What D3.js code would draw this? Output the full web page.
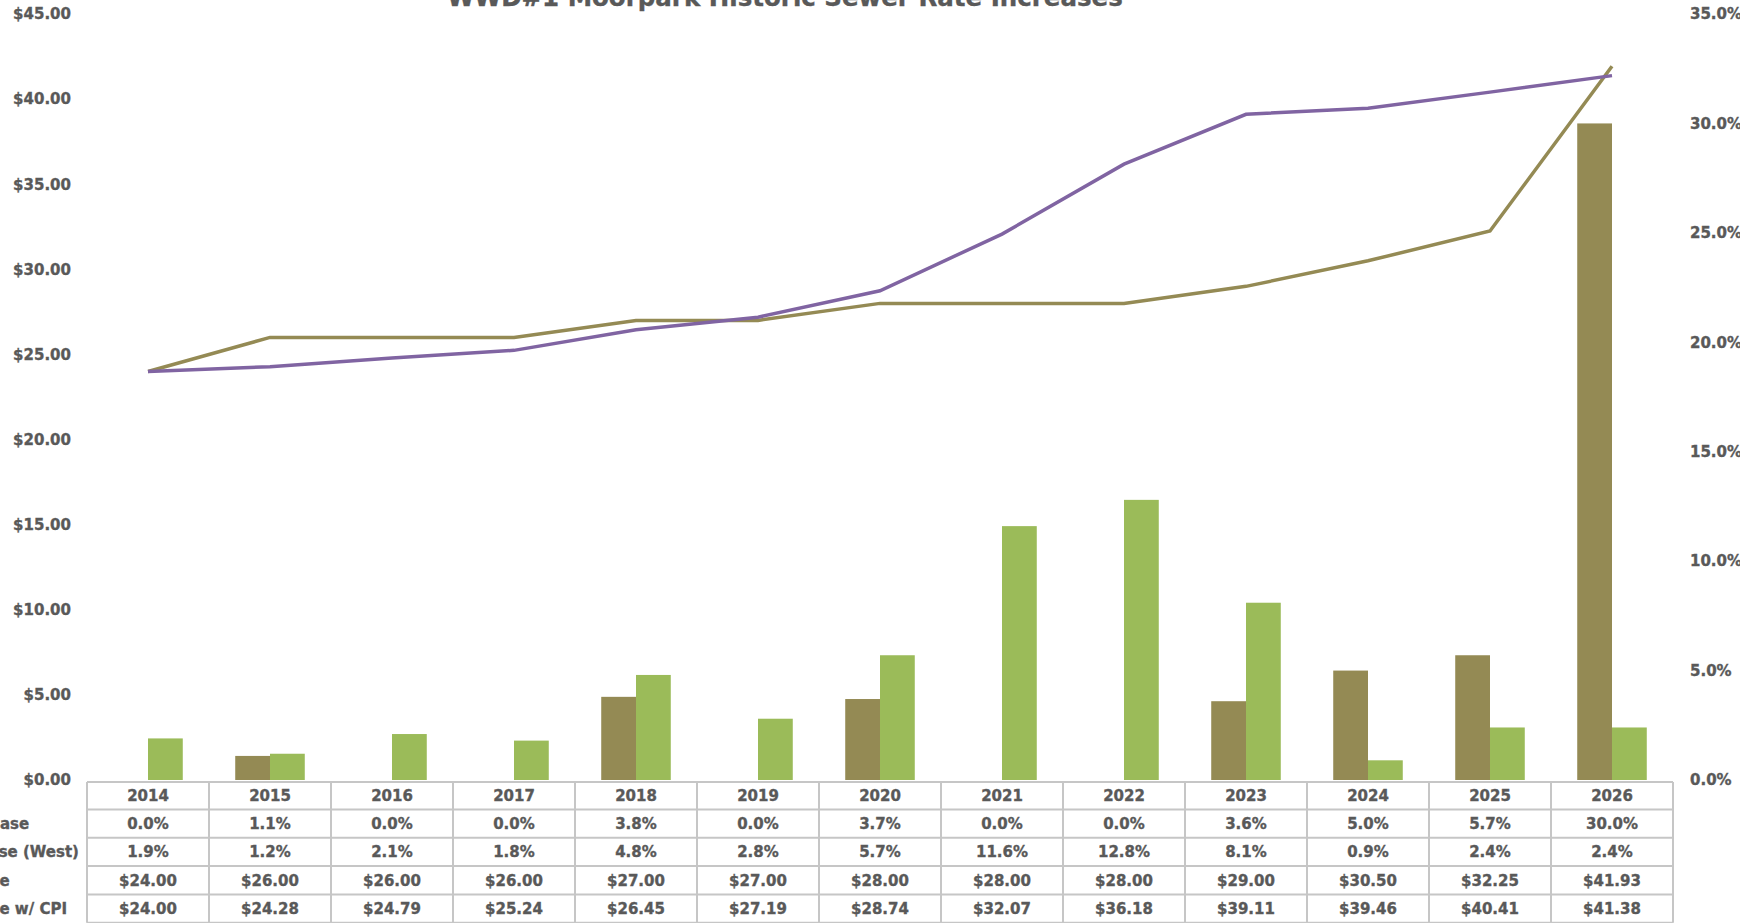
<!DOCTYPE html>
<html>
<head>
<meta charset="utf-8">
<script src="https://cdn.jsdelivr.net/npm/d3@7"></script>
<style>
    body { margin: 0; background: #ffffff; overflow: hidden; }
    text { font-family: "DejaVu Sans", sans-serif; font-weight: bold; fill: #595959; stroke: #595959; stroke-width: 0.35px; }
</style>
</head>
<body>
<div id="chart"></div>
<script>
const years = ["2014", "2015", "2016", "2017", "2018", "2019", "2020", "2021", "2022", "2023", "2024", "2025", "2026"];
const rateIncrease = [0.000, 0.011, 0.000, 0.000, 0.038, 0.000, 0.037, 0.000, 0.000, 0.036, 0.050, 0.057, 0.300];
const cpiIncrease = [0.019, 0.012, 0.021, 0.018, 0.048, 0.028, 0.057, 0.116, 0.128, 0.081, 0.009, 0.024, 0.024];
const rate = [24.00, 26.00, 26.00, 26.00, 27.00, 27.00, 28.00, 28.00, 28.00, 29.00, 30.50, 32.25, 41.93];
const rateCpi = [24.00, 24.28, 24.79, 25.24, 26.45, 27.19, 28.74, 32.07, 36.18, 39.11, 39.46, 40.41, 41.38];
const rowLabels = ["Rate Increase", "CPI Increase (West)", "Sewer Rate", "Sewer Rate w/ CPI"];
const leftTicks = [0, 5, 10, 15, 20, 25, 30, 35, 40, 45];
const rightTicks = [0, 0.05, 0.10, 0.15, 0.20, 0.25, 0.30, 0.35];
const title = "WWD#1 Moorpark Historic Sewer Rate Increases";

const width = 1740;
const height = 923;

const olive = "#948a54";
const green = "#9bbb59";
const purple = "#8064a2";

const svg = d3.select("#chart")
.append("svg")
.attr("width", width)
.attr("height", height);

// plot area
const plotLeft = 87;
const plotRight = 1673;
const plotTop = 14;
const plotBottom = 780;

const xScale = d3.scaleBand()
.domain(years)
.range([plotLeft, plotRight])
.paddingInner(0.43)
.paddingOuter(0.215);

const xSub = d3.scaleBand()
.domain(["rate", "cpi"])
.range([0, xScale.bandwidth()]);

const yLeft = d3.scaleLinear()
.domain([0, 45])
.range([plotBottom, plotTop]);

const yRight = d3.scaleLinear()
.domain([0, 0.35])
.range([plotBottom, plotTop]);

// axes, labels only
const leftAxis = d3.axisLeft(yLeft)
.tickValues(leftTicks)
.tickFormat(d3.format("$.2f"))
.tickSize(0)
.tickPadding(0);

svg.append("g")
.attr("transform", "translate(71,0)")
.call(leftAxis)
.call(g => g.select(".domain").remove())
.selectAll("text")
.style("font-size", "15px")
.style("font-family", "DejaVu Sans")
.attr("fill", "#595959");

const rightAxis = d3.axisRight(yRight)
.tickValues(rightTicks)
.tickFormat(d3.format(".1%"))
.tickSize(0)
.tickPadding(0);

svg.append("g")
.attr("transform", "translate(1690,0)")
.call(rightAxis)
.call(g => g.select(".domain").remove())
.selectAll("text")
.style("font-size", "15px")
.style("font-family", "DejaVu Sans")
.attr("fill", "#595959");

// bars on the percent axis
const barData = years.map((y, i) => [
    {year: y, key: "rate", value: rateIncrease[i]},
    {year: y, key: "cpi", value: cpiIncrease[i]}
]).flat();

svg.selectAll(".bar")
.data(barData)
.enter()
.append("rect")
.attr("class", "bar")
.attr("x", d => xScale(d.year) + xSub(d.key))
.attr("width", xSub.bandwidth())
.attr("y", d => yRight(d.value))
.attr("height", d => plotBottom - yRight(d.value))
.attr("fill", d => d.key == "rate" ? olive : green);

// lines on the dollar axis
const line = d3.line()
.x((d, i) => xScale(years[i]) + xScale.bandwidth() / 2)
.y(d => yLeft(d));

svg.append("path")
.datum(rate)
.attr("d", line)
.attr("fill", "none")
.attr("stroke", olive)
.attr("stroke-width", 3.5);

svg.append("path")
.datum(rateCpi)
.attr("d", line)
.attr("fill", "none")
.attr("stroke", purple)
.attr("stroke-width", 3.5);

// data table under the chart
const rowTop = 782;
const rowH = [27.5, 28.3, 28.3, 28.3, 28.3];
const rowY = [rowTop];
rowH.forEach((h, i) => rowY.push(rowY[i] + h));

const step = xScale.step();
const colX = years.map((y, i) => plotLeft + i * step);

const table = svg.append("g");

table.selectAll(".hline")
.data(rowY)
.enter()
.append("line")
.attr("x1", plotLeft)
.attr("x2", plotRight)
.attr("y1", d => d)
.attr("y2", d => d)
.attr("stroke", "#c6c6c6")
.attr("stroke-width", 2);

table.selectAll(".vline")
.data(colX.concat([plotRight]))
.enter()
.append("line")
.attr("x1", d => d)
.attr("x2", d => d)
.attr("y1", rowY[0])
.attr("y2", rowY[5])
.attr("stroke", "#c6c6c6")
.attr("stroke-width", 2);

const pct = d3.format(".1%");
const usd = d3.format("$.2f");
const rows = [
    years,
    rateIncrease.map(pct),
    cpiIncrease.map(pct),
    rate.map(usd),
    rateCpi.map(usd)
];

rows.forEach((row, r) => {
    table.selectAll(".cell" + r)
    .data(row)
    .enter()
    .append("text")
    .attr("x", (d, i) => xScale(years[i]) + xScale.bandwidth() / 2)
    .attr("y", (rowY[r] + rowY[r + 1]) / 2)
    .attr("dy", "0.36em")
    .attr("text-anchor", "middle")
    .style("font-size", "15px")
    .text(d => d);
});

// row labels start left of the frame, so only their ends show
table.selectAll(".rowLabel")
.data(rowLabels)
.enter()
.append("text")
.attr("x", -87)
.attr("y", (d, i) => (rowY[i + 1] + rowY[i + 2]) / 2)
.attr("dy", "0.36em")
.attr("text-anchor", "start")
.style("font-size", "15px")
.text(d => d);

// title, partly above the frame
svg.append("text")
.attr("x", 785)
.attr("y", 6)
.attr("text-anchor", "middle")
.style("font-size", "24.5px")
.text(title);
</script>
</body>
</html>
